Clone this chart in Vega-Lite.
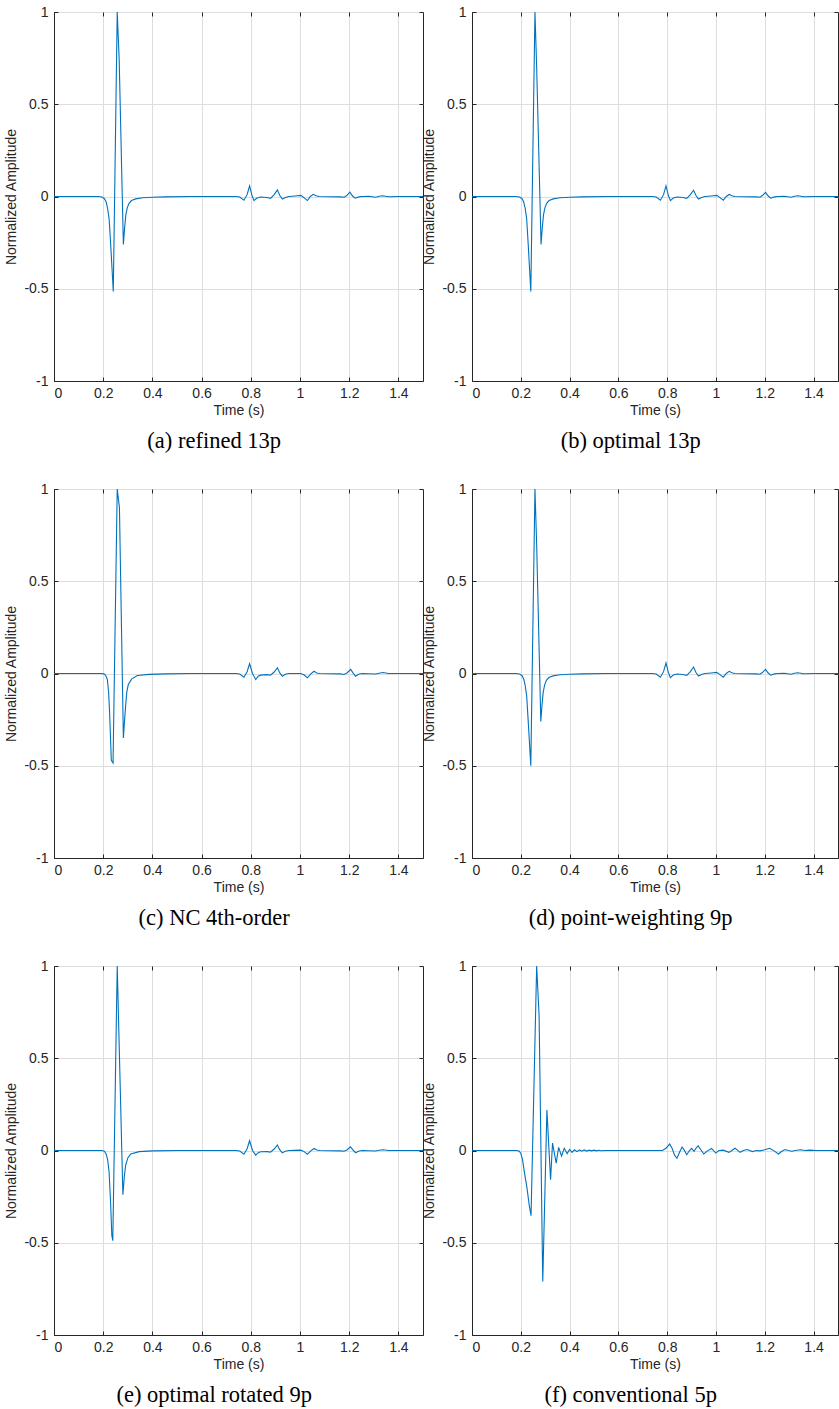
{
  "$schema": "https://vega.github.io/schema/vega-lite/v6.json",
  "autosize": {"type": "pad"},
  "padding": {"left": 4, "top": 4, "right": 0, "bottom": 0},
  "background": "white",
  "bounds": "flush",
  "columns": 2,
  "spacing": {"row": 108, "column": 49},
  "config": {
    "view": {"stroke": "#262626", "strokeWidth": 1},
    "axis": {
      "domainColor": "#262626", "tickColor": "#262626", "labelColor": "#262626", "titleColor": "#262626",
      "gridColor": "#dedede", "gridWidth": 1, "labelFont": "Liberation Sans", "titleFont": "Liberation Sans",
      "labelFontSize": 14, "titleFontSize": 14, "titleFontWeight": "normal", "tickSize": -4, "tickWidth": 1, "domainWidth": 1
    },
    "title": {"font": "Liberation Serif", "fontSize": 22.5, "fontWeight": "normal", "color": "#000000"}
  },
  "data": {"values": [
    {"p":"a","t":0,"v":0},{"p":"a","t":0.18,"v":0},{"p":"a","t":0.195,"v":-0.003},{"p":"a","t":0.205,"v":-0.012},{"p":"a","t":0.212,"v":-0.03},{"p":"a","t":0.218,"v":-0.065},{"p":"a","t":0.224,"v":-0.12},{"p":"a","t":0.23,"v":-0.25},{"p":"a","t":0.241,"v":-0.515},{"p":"a","t":0.257,"v":1.0},{"p":"a","t":0.265,"v":0.74},{"p":"a","t":0.282,"v":-0.26},{"p":"a","t":0.287,"v":-0.17},{"p":"a","t":0.292,"v":-0.1},{"p":"a","t":0.298,"v":-0.06},{"p":"a","t":0.305,"v":-0.037},{"p":"a","t":0.315,"v":-0.022},{"p":"a","t":0.332,"v":-0.013},{"p":"a","t":0.36,"v":-0.007},{"p":"a","t":0.4,"v":-0.004},{"p":"a","t":0.45,"v":-0.002},{"p":"a","t":0.55,"v":0},{"p":"a","t":0.74,"v":0},{"p":"a","t":0.755,"v":-0.003},{"p":"a","t":0.772,"v":-0.02},{"p":"a","t":0.785,"v":0.01},{"p":"a","t":0.795,"v":0.057},{"p":"a","t":0.805,"v":0.005},{"p":"a","t":0.813,"v":-0.022},{"p":"a","t":0.825,"v":-0.008},{"p":"a","t":0.84,"v":-0.003},{"p":"a","t":0.865,"v":-0.005},{"p":"a","t":0.88,"v":-0.01},{"p":"a","t":0.895,"v":0.01},{"p":"a","t":0.908,"v":0.036},{"p":"a","t":0.918,"v":0.005},{"p":"a","t":0.928,"v":-0.014},{"p":"a","t":0.94,"v":-0.005},{"p":"a","t":0.955,"v":0},{"p":"a","t":0.98,"v":0.003},{"p":"a","t":1.003,"v":0.006},{"p":"a","t":1.015,"v":-0.005},{"p":"a","t":1.03,"v":-0.022},{"p":"a","t":1.042,"v":0},{"p":"a","t":1.054,"v":0.012},{"p":"a","t":1.065,"v":0.004},{"p":"a","t":1.077,"v":0},{"p":"a","t":1.12,"v":-0.001},{"p":"a","t":1.165,"v":-0.002},{"p":"a","t":1.18,"v":-0.004},{"p":"a","t":1.19,"v":0.005},{"p":"a","t":1.203,"v":0.024},{"p":"a","t":1.213,"v":0.004},{"p":"a","t":1.224,"v":-0.009},{"p":"a","t":1.24,"v":-0.002},{"p":"a","t":1.253,"v":0},{"p":"a","t":1.28,"v":0.001},{"p":"a","t":1.307,"v":-0.004},{"p":"a","t":1.322,"v":0.001},{"p":"a","t":1.335,"v":0.004},{"p":"a","t":1.36,"v":-0.001},{"p":"a","t":1.4,"v":0},{"p":"a","t":1.5,"v":0},

    {"p":"b","t":0,"v":0},{"p":"b","t":0.18,"v":0},{"p":"b","t":0.195,"v":-0.003},{"p":"b","t":0.205,"v":-0.012},{"p":"b","t":0.212,"v":-0.03},{"p":"b","t":0.218,"v":-0.065},{"p":"b","t":0.224,"v":-0.12},{"p":"b","t":0.23,"v":-0.25},{"p":"b","t":0.241,"v":-0.515},{"p":"b","t":0.258,"v":1.0},{"p":"b","t":0.265,"v":0.7},{"p":"b","t":0.283,"v":-0.26},{"p":"b","t":0.288,"v":-0.17},{"p":"b","t":0.293,"v":-0.1},{"p":"b","t":0.299,"v":-0.06},{"p":"b","t":0.306,"v":-0.037},{"p":"b","t":0.316,"v":-0.022},{"p":"b","t":0.333,"v":-0.013},{"p":"b","t":0.36,"v":-0.007},{"p":"b","t":0.4,"v":-0.004},{"p":"b","t":0.45,"v":-0.002},{"p":"b","t":0.55,"v":0},{"p":"b","t":0.74,"v":0},{"p":"b","t":0.755,"v":-0.003},{"p":"b","t":0.772,"v":-0.02},{"p":"b","t":0.785,"v":0.01},{"p":"b","t":0.795,"v":0.058},{"p":"b","t":0.805,"v":0.005},{"p":"b","t":0.813,"v":-0.022},{"p":"b","t":0.825,"v":-0.008},{"p":"b","t":0.84,"v":-0.003},{"p":"b","t":0.865,"v":-0.005},{"p":"b","t":0.88,"v":-0.01},{"p":"b","t":0.895,"v":0.01},{"p":"b","t":0.908,"v":0.034},{"p":"b","t":0.918,"v":0.005},{"p":"b","t":0.928,"v":-0.014},{"p":"b","t":0.94,"v":-0.005},{"p":"b","t":0.955,"v":0},{"p":"b","t":0.98,"v":0.003},{"p":"b","t":1.003,"v":0.006},{"p":"b","t":1.015,"v":-0.005},{"p":"b","t":1.03,"v":-0.02},{"p":"b","t":1.042,"v":0},{"p":"b","t":1.054,"v":0.011},{"p":"b","t":1.065,"v":0.004},{"p":"b","t":1.077,"v":0},{"p":"b","t":1.12,"v":-0.001},{"p":"b","t":1.165,"v":-0.002},{"p":"b","t":1.18,"v":-0.004},{"p":"b","t":1.19,"v":0.005},{"p":"b","t":1.203,"v":0.022},{"p":"b","t":1.213,"v":0.004},{"p":"b","t":1.224,"v":-0.009},{"p":"b","t":1.24,"v":-0.002},{"p":"b","t":1.253,"v":0},{"p":"b","t":1.28,"v":0.001},{"p":"b","t":1.307,"v":-0.004},{"p":"b","t":1.322,"v":0.001},{"p":"b","t":1.335,"v":0.004},{"p":"b","t":1.36,"v":-0.001},{"p":"b","t":1.4,"v":0},{"p":"b","t":1.5,"v":0},

    {"p":"c","t":0,"v":0},{"p":"c","t":0.19,"v":0},{"p":"c","t":0.203,"v":-0.002},{"p":"c","t":0.21,"v":-0.01},{"p":"c","t":0.217,"v":-0.033},{"p":"c","t":0.222,"v":-0.1},{"p":"c","t":0.226,"v":-0.21},{"p":"c","t":0.233,"v":-0.47},{"p":"c","t":0.24,"v":-0.485},{"p":"c","t":0.257,"v":1.0},{"p":"c","t":0.266,"v":0.9},{"p":"c","t":0.282,"v":-0.35},{"p":"c","t":0.287,"v":-0.25},{"p":"c","t":0.291,"v":-0.178},{"p":"c","t":0.296,"v":-0.1},{"p":"c","t":0.302,"v":-0.06},{"p":"c","t":0.316,"v":-0.029},{"p":"c","t":0.339,"v":-0.011},{"p":"c","t":0.386,"v":-0.005},{"p":"c","t":0.45,"v":-0.002},{"p":"c","t":0.55,"v":0},{"p":"c","t":0.74,"v":0},{"p":"c","t":0.755,"v":-0.003},{"p":"c","t":0.772,"v":-0.02},{"p":"c","t":0.785,"v":0.01},{"p":"c","t":0.795,"v":0.053},{"p":"c","t":0.807,"v":0},{"p":"c","t":0.82,"v":-0.033},{"p":"c","t":0.83,"v":-0.015},{"p":"c","t":0.84,"v":-0.009},{"p":"c","t":0.865,"v":-0.006},{"p":"c","t":0.88,"v":-0.009},{"p":"c","t":0.895,"v":0.008},{"p":"c","t":0.908,"v":0.031},{"p":"c","t":0.918,"v":0.003},{"p":"c","t":0.928,"v":-0.015},{"p":"c","t":0.94,"v":-0.004},{"p":"c","t":0.955,"v":0},{"p":"c","t":1.003,"v":0},{"p":"c","t":1.017,"v":-0.008},{"p":"c","t":1.03,"v":-0.023},{"p":"c","t":1.044,"v":-0.002},{"p":"c","t":1.057,"v":0.012},{"p":"c","t":1.068,"v":0.003},{"p":"c","t":1.08,"v":0},{"p":"c","t":1.165,"v":-0.002},{"p":"c","t":1.179,"v":-0.005},{"p":"c","t":1.192,"v":0.004},{"p":"c","t":1.206,"v":0.022},{"p":"c","t":1.216,"v":0.002},{"p":"c","t":1.226,"v":-0.015},{"p":"c","t":1.24,"v":-0.003},{"p":"c","t":1.253,"v":0},{"p":"c","t":1.307,"v":-0.003},{"p":"c","t":1.322,"v":0.001},{"p":"c","t":1.337,"v":0.005},{"p":"c","t":1.36,"v":0},{"p":"c","t":1.5,"v":0},

    {"p":"d","t":0,"v":0},{"p":"d","t":0.18,"v":0},{"p":"d","t":0.195,"v":-0.003},{"p":"d","t":0.205,"v":-0.012},{"p":"d","t":0.212,"v":-0.03},{"p":"d","t":0.218,"v":-0.065},{"p":"d","t":0.224,"v":-0.12},{"p":"d","t":0.23,"v":-0.25},{"p":"d","t":0.241,"v":-0.5},{"p":"d","t":0.258,"v":1.0},{"p":"d","t":0.265,"v":0.7},{"p":"d","t":0.282,"v":-0.26},{"p":"d","t":0.287,"v":-0.17},{"p":"d","t":0.292,"v":-0.1},{"p":"d","t":0.298,"v":-0.06},{"p":"d","t":0.305,"v":-0.037},{"p":"d","t":0.315,"v":-0.022},{"p":"d","t":0.332,"v":-0.013},{"p":"d","t":0.36,"v":-0.007},{"p":"d","t":0.4,"v":-0.004},{"p":"d","t":0.45,"v":-0.002},{"p":"d","t":0.55,"v":0},{"p":"d","t":0.74,"v":0},{"p":"d","t":0.755,"v":-0.003},{"p":"d","t":0.772,"v":-0.02},{"p":"d","t":0.785,"v":0.01},{"p":"d","t":0.795,"v":0.057},{"p":"d","t":0.805,"v":0.005},{"p":"d","t":0.813,"v":-0.022},{"p":"d","t":0.825,"v":-0.008},{"p":"d","t":0.84,"v":-0.003},{"p":"d","t":0.865,"v":-0.005},{"p":"d","t":0.88,"v":-0.01},{"p":"d","t":0.895,"v":0.01},{"p":"d","t":0.908,"v":0.035},{"p":"d","t":0.918,"v":0.005},{"p":"d","t":0.928,"v":-0.014},{"p":"d","t":0.94,"v":-0.005},{"p":"d","t":0.955,"v":0},{"p":"d","t":0.98,"v":0.003},{"p":"d","t":1.003,"v":0.006},{"p":"d","t":1.015,"v":-0.005},{"p":"d","t":1.03,"v":-0.02},{"p":"d","t":1.042,"v":0},{"p":"d","t":1.054,"v":0.012},{"p":"d","t":1.065,"v":0.004},{"p":"d","t":1.077,"v":0},{"p":"d","t":1.12,"v":-0.001},{"p":"d","t":1.165,"v":-0.002},{"p":"d","t":1.18,"v":-0.004},{"p":"d","t":1.19,"v":0.005},{"p":"d","t":1.203,"v":0.022},{"p":"d","t":1.213,"v":0.004},{"p":"d","t":1.224,"v":-0.009},{"p":"d","t":1.24,"v":-0.002},{"p":"d","t":1.253,"v":0},{"p":"d","t":1.28,"v":0.001},{"p":"d","t":1.307,"v":-0.004},{"p":"d","t":1.322,"v":0.001},{"p":"d","t":1.335,"v":0.004},{"p":"d","t":1.36,"v":-0.001},{"p":"d","t":1.4,"v":0},{"p":"d","t":1.5,"v":0},

    {"p":"e","t":0,"v":0},{"p":"e","t":0.195,"v":0},{"p":"e","t":0.205,"v":-0.004},{"p":"e","t":0.212,"v":-0.02},{"p":"e","t":0.218,"v":-0.05},{"p":"e","t":0.224,"v":-0.118},{"p":"e","t":0.23,"v":-0.28},{"p":"e","t":0.235,"v":-0.46},{"p":"e","t":0.239,"v":-0.489},{"p":"e","t":0.257,"v":1.0},{"p":"e","t":0.28,"v":-0.24},{"p":"e","t":0.286,"v":-0.14},{"p":"e","t":0.291,"v":-0.082},{"p":"e","t":0.3,"v":-0.04},{"p":"e","t":0.312,"v":-0.019},{"p":"e","t":0.346,"v":-0.006},{"p":"e","t":0.4,"v":-0.002},{"p":"e","t":0.5,"v":0},{"p":"e","t":0.74,"v":0},{"p":"e","t":0.755,"v":-0.003},{"p":"e","t":0.772,"v":-0.02},{"p":"e","t":0.785,"v":0.01},{"p":"e","t":0.795,"v":0.053},{"p":"e","t":0.807,"v":0},{"p":"e","t":0.82,"v":-0.025},{"p":"e","t":0.83,"v":-0.012},{"p":"e","t":0.84,"v":-0.007},{"p":"e","t":0.865,"v":-0.006},{"p":"e","t":0.88,"v":-0.009},{"p":"e","t":0.895,"v":0.008},{"p":"e","t":0.908,"v":0.03},{"p":"e","t":0.918,"v":0.003},{"p":"e","t":0.928,"v":-0.013},{"p":"e","t":0.94,"v":-0.004},{"p":"e","t":0.955,"v":0},{"p":"e","t":1.003,"v":0.002},{"p":"e","t":1.017,"v":-0.006},{"p":"e","t":1.03,"v":-0.02},{"p":"e","t":1.044,"v":-0.002},{"p":"e","t":1.057,"v":0.011},{"p":"e","t":1.068,"v":0.003},{"p":"e","t":1.08,"v":0},{"p":"e","t":1.165,"v":-0.002},{"p":"e","t":1.179,"v":-0.004},{"p":"e","t":1.192,"v":0.004},{"p":"e","t":1.205,"v":0.02},{"p":"e","t":1.216,"v":0.002},{"p":"e","t":1.226,"v":-0.012},{"p":"e","t":1.24,"v":-0.003},{"p":"e","t":1.253,"v":0},{"p":"e","t":1.307,"v":-0.003},{"p":"e","t":1.322,"v":0.001},{"p":"e","t":1.337,"v":0.004},{"p":"e","t":1.36,"v":0},{"p":"e","t":1.5,"v":0},

    {"p":"f","t":0,"v":0},{"p":"f","t":0.18,"v":0},{"p":"f","t":0.193,"v":-0.003},{"p":"f","t":0.2,"v":-0.015},{"p":"f","t":0.207,"v":-0.05},{"p":"f","t":0.215,"v":-0.12},{"p":"f","t":0.225,"v":-0.2},{"p":"f","t":0.235,"v":-0.3},{"p":"f","t":0.242,"v":-0.353},{"p":"f","t":0.265,"v":1.0},{"p":"f","t":0.275,"v":0.73},{"p":"f","t":0.29,"v":-0.71},{"p":"f","t":0.307,"v":0.22},{"p":"f","t":0.322,"v":-0.158},{"p":"f","t":0.33,"v":0.04},{"p":"f","t":0.345,"v":-0.068},{"p":"f","t":0.355,"v":0.017},{"p":"f","t":0.367,"v":-0.03},{"p":"f","t":0.378,"v":0.012},{"p":"f","t":0.39,"v":-0.017},{"p":"f","t":0.4,"v":0.006},{"p":"f","t":0.41,"v":-0.01},{"p":"f","t":0.42,"v":0.004},{"p":"f","t":0.43,"v":-0.006},{"p":"f","t":0.44,"v":0.003},{"p":"f","t":0.45,"v":-0.004},{"p":"f","t":0.46,"v":0.003},{"p":"f","t":0.47,"v":-0.003},{"p":"f","t":0.48,"v":0.002},{"p":"f","t":0.49,"v":-0.002},{"p":"f","t":0.5,"v":0.002},{"p":"f","t":0.51,"v":-0.002},{"p":"f","t":0.52,"v":0.001},{"p":"f","t":0.53,"v":-0.001},{"p":"f","t":0.55,"v":0},{"p":"f","t":0.78,"v":0},{"p":"f","t":0.795,"v":0.012},{"p":"f","t":0.81,"v":0.035},{"p":"f","t":0.82,"v":0.012},{"p":"f","t":0.83,"v":-0.025},{"p":"f","t":0.84,"v":-0.042},{"p":"f","t":0.851,"v":-0.008},{"p":"f","t":0.861,"v":0.019},{"p":"f","t":0.87,"v":0.002},{"p":"f","t":0.88,"v":-0.023},{"p":"f","t":0.89,"v":-0.003},{"p":"f","t":0.9,"v":0.012},{"p":"f","t":0.91,"v":-0.004},{"p":"f","t":0.919,"v":0.015},{"p":"f","t":0.927,"v":0.025},{"p":"f","t":0.938,"v":0.004},{"p":"f","t":0.95,"v":-0.019},{"p":"f","t":0.965,"v":-0.002},{"p":"f","t":0.982,"v":0.011},{"p":"f","t":0.999,"v":-0.014},{"p":"f","t":1.012,"v":0},{"p":"f","t":1.03,"v":0.002},{"p":"f","t":1.053,"v":-0.01},{"p":"f","t":1.065,"v":0},{"p":"f","t":1.078,"v":0.012},{"p":"f","t":1.088,"v":0.002},{"p":"f","t":1.099,"v":-0.01},{"p":"f","t":1.112,"v":0},{"p":"f","t":1.127,"v":0.005},{"p":"f","t":1.138,"v":0},{"p":"f","t":1.149,"v":-0.006},{"p":"f","t":1.165,"v":0},{"p":"f","t":1.18,"v":-0.002},{"p":"f","t":1.2,"v":0.004},{"p":"f","t":1.22,"v":0.012},{"p":"f","t":1.238,"v":-0.002},{"p":"f","t":1.256,"v":-0.019},{"p":"f","t":1.27,"v":-0.004},{"p":"f","t":1.283,"v":0.005},{"p":"f","t":1.297,"v":0},{"p":"f","t":1.311,"v":-0.004},{"p":"f","t":1.325,"v":0},{"p":"f","t":1.346,"v":0.004},{"p":"f","t":1.365,"v":0},{"p":"f","t":1.385,"v":0.002},{"p":"f","t":1.41,"v":0},{"p":"f","t":1.5,"v":0}
  ]},
  "concat": [
    {
      "width": 369, "height": 369,
      "transform": [{"filter": "datum.p == 'a'"}],
      "title": {"text": "(a) refined 13p", "orient": "bottom", "frame": "bounds", "anchor": "middle", "offset": 13},
      "layer": [
        {"mark": {"type": "line", "color": "#0072BD", "strokeWidth": 1.1, "clip": true},
         "encoding": {
           "x": {"field": "t", "type": "quantitative", "scale": {"domain": [0, 1.5], "nice": false, "zero": false}, "axis": {"orient": "bottom", "values": [0,0.2,0.4,0.6,0.8,1,1.2,1.4], "format": "~g", "title": "Time (s)", "labelPadding": 9, "titlePadding": 3, "grid": true}},
           "y": {"field": "v", "type": "quantitative", "scale": {"domain": [-1, 1], "nice": false}, "axis": {"orient": "left", "values": [-1,-0.5,0,0.5,1], "labelExpr": "replace(format(datum.value,'~g'),'\u2212','-')", "title": "Normalized Amplitude", "labelPadding": 10, "titlePadding": 5, "grid": true}}
         }},
        {"mark": {"type": "line", "opacity": 0},
         "encoding": {
           "x": {"field": "t", "type": "quantitative", "axis": {"orient": "top", "values": [0,0.2,0.4,0.6,0.8,1,1.2,1.4], "labels": false, "grid": false, "domain": false, "title": null}},
           "y": {"field": "v", "type": "quantitative", "axis": {"orient": "right", "values": [-1,-0.5,0,0.5,1], "labels": false, "grid": false, "domain": false, "title": null}}
         }}
      ],
      "resolve": {"axis": {"x": "independent", "y": "independent"}}
    },
    {
      "width": 366, "height": 369,
      "transform": [{"filter": "datum.p == 'b'"}],
      "title": {"text": "(b) optimal 13p", "orient": "bottom", "frame": "bounds", "anchor": "middle", "offset": 13},
      "layer": [
        {"mark": {"type": "line", "color": "#0072BD", "strokeWidth": 1.1, "clip": true},
         "encoding": {
           "x": {"field": "t", "type": "quantitative", "scale": {"domain": [0, 1.5], "nice": false, "zero": false}, "axis": {"orient": "bottom", "values": [0,0.2,0.4,0.6,0.8,1,1.2,1.4], "format": "~g", "title": "Time (s)", "labelPadding": 9, "titlePadding": 3, "grid": true}},
           "y": {"field": "v", "type": "quantitative", "scale": {"domain": [-1, 1], "nice": false}, "axis": {"orient": "left", "values": [-1,-0.5,0,0.5,1], "labelExpr": "replace(format(datum.value,'~g'),'\u2212','-')", "title": "Normalized Amplitude", "labelPadding": 10, "titlePadding": 5, "grid": true}}
         }},
        {"mark": {"type": "line", "opacity": 0},
         "encoding": {
           "x": {"field": "t", "type": "quantitative", "axis": {"orient": "top", "values": [0,0.2,0.4,0.6,0.8,1,1.2,1.4], "labels": false, "grid": false, "domain": false, "title": null}},
           "y": {"field": "v", "type": "quantitative", "axis": {"orient": "right", "values": [-1,-0.5,0,0.5,1], "labels": false, "grid": false, "domain": false, "title": null}}
         }}
      ],
      "resolve": {"axis": {"x": "independent", "y": "independent"}}
    },
    {
      "width": 369, "height": 369,
      "transform": [{"filter": "datum.p == 'c'"}],
      "title": {"text": "(c) NC 4th-order", "orient": "bottom", "frame": "bounds", "anchor": "middle", "offset": 13},
      "layer": [
        {"mark": {"type": "line", "color": "#0072BD", "strokeWidth": 1.1, "clip": true},
         "encoding": {
           "x": {"field": "t", "type": "quantitative", "scale": {"domain": [0, 1.5], "nice": false, "zero": false}, "axis": {"orient": "bottom", "values": [0,0.2,0.4,0.6,0.8,1,1.2,1.4], "format": "~g", "title": "Time (s)", "labelPadding": 9, "titlePadding": 3, "grid": true}},
           "y": {"field": "v", "type": "quantitative", "scale": {"domain": [-1, 1], "nice": false}, "axis": {"orient": "left", "values": [-1,-0.5,0,0.5,1], "labelExpr": "replace(format(datum.value,'~g'),'\u2212','-')", "title": "Normalized Amplitude", "labelPadding": 10, "titlePadding": 5, "grid": true}}
         }},
        {"mark": {"type": "line", "opacity": 0},
         "encoding": {
           "x": {"field": "t", "type": "quantitative", "axis": {"orient": "top", "values": [0,0.2,0.4,0.6,0.8,1,1.2,1.4], "labels": false, "grid": false, "domain": false, "title": null}},
           "y": {"field": "v", "type": "quantitative", "axis": {"orient": "right", "values": [-1,-0.5,0,0.5,1], "labels": false, "grid": false, "domain": false, "title": null}}
         }}
      ],
      "resolve": {"axis": {"x": "independent", "y": "independent"}}
    },
    {
      "width": 366, "height": 369,
      "transform": [{"filter": "datum.p == 'd'"}],
      "title": {"text": "(d) point-weighting 9p", "orient": "bottom", "frame": "bounds", "anchor": "middle", "offset": 13},
      "layer": [
        {"mark": {"type": "line", "color": "#0072BD", "strokeWidth": 1.1, "clip": true},
         "encoding": {
           "x": {"field": "t", "type": "quantitative", "scale": {"domain": [0, 1.5], "nice": false, "zero": false}, "axis": {"orient": "bottom", "values": [0,0.2,0.4,0.6,0.8,1,1.2,1.4], "format": "~g", "title": "Time (s)", "labelPadding": 9, "titlePadding": 3, "grid": true}},
           "y": {"field": "v", "type": "quantitative", "scale": {"domain": [-1, 1], "nice": false}, "axis": {"orient": "left", "values": [-1,-0.5,0,0.5,1], "labelExpr": "replace(format(datum.value,'~g'),'\u2212','-')", "title": "Normalized Amplitude", "labelPadding": 10, "titlePadding": 5, "grid": true}}
         }},
        {"mark": {"type": "line", "opacity": 0},
         "encoding": {
           "x": {"field": "t", "type": "quantitative", "axis": {"orient": "top", "values": [0,0.2,0.4,0.6,0.8,1,1.2,1.4], "labels": false, "grid": false, "domain": false, "title": null}},
           "y": {"field": "v", "type": "quantitative", "axis": {"orient": "right", "values": [-1,-0.5,0,0.5,1], "labels": false, "grid": false, "domain": false, "title": null}}
         }}
      ],
      "resolve": {"axis": {"x": "independent", "y": "independent"}}
    },
    {
      "width": 369, "height": 369,
      "transform": [{"filter": "datum.p == 'e'"}],
      "title": {"text": "(e) optimal rotated 9p", "orient": "bottom", "frame": "bounds", "anchor": "middle", "offset": 13},
      "layer": [
        {"mark": {"type": "line", "color": "#0072BD", "strokeWidth": 1.1, "clip": true},
         "encoding": {
           "x": {"field": "t", "type": "quantitative", "scale": {"domain": [0, 1.5], "nice": false, "zero": false}, "axis": {"orient": "bottom", "values": [0,0.2,0.4,0.6,0.8,1,1.2,1.4], "format": "~g", "title": "Time (s)", "labelPadding": 9, "titlePadding": 3, "grid": true}},
           "y": {"field": "v", "type": "quantitative", "scale": {"domain": [-1, 1], "nice": false}, "axis": {"orient": "left", "values": [-1,-0.5,0,0.5,1], "labelExpr": "replace(format(datum.value,'~g'),'\u2212','-')", "title": "Normalized Amplitude", "labelPadding": 10, "titlePadding": 5, "grid": true}}
         }},
        {"mark": {"type": "line", "opacity": 0},
         "encoding": {
           "x": {"field": "t", "type": "quantitative", "axis": {"orient": "top", "values": [0,0.2,0.4,0.6,0.8,1,1.2,1.4], "labels": false, "grid": false, "domain": false, "title": null}},
           "y": {"field": "v", "type": "quantitative", "axis": {"orient": "right", "values": [-1,-0.5,0,0.5,1], "labels": false, "grid": false, "domain": false, "title": null}}
         }}
      ],
      "resolve": {"axis": {"x": "independent", "y": "independent"}}
    },
    {
      "width": 366, "height": 369,
      "transform": [{"filter": "datum.p == 'f'"}],
      "title": {"text": "(f) conventional 5p", "orient": "bottom", "frame": "bounds", "anchor": "middle", "offset": 13},
      "layer": [
        {"mark": {"type": "line", "color": "#0072BD", "strokeWidth": 1.1, "clip": true},
         "encoding": {
           "x": {"field": "t", "type": "quantitative", "scale": {"domain": [0, 1.5], "nice": false, "zero": false}, "axis": {"orient": "bottom", "values": [0,0.2,0.4,0.6,0.8,1,1.2,1.4], "format": "~g", "title": "Time (s)", "labelPadding": 9, "titlePadding": 3, "grid": true}},
           "y": {"field": "v", "type": "quantitative", "scale": {"domain": [-1, 1], "nice": false}, "axis": {"orient": "left", "values": [-1,-0.5,0,0.5,1], "labelExpr": "replace(format(datum.value,'~g'),'\u2212','-')", "title": "Normalized Amplitude", "labelPadding": 10, "titlePadding": 5, "grid": true}}
         }},
        {"mark": {"type": "line", "opacity": 0},
         "encoding": {
           "x": {"field": "t", "type": "quantitative", "axis": {"orient": "top", "values": [0,0.2,0.4,0.6,0.8,1,1.2,1.4], "labels": false, "grid": false, "domain": false, "title": null}},
           "y": {"field": "v", "type": "quantitative", "axis": {"orient": "right", "values": [-1,-0.5,0,0.5,1], "labels": false, "grid": false, "domain": false, "title": null}}
         }}
      ],
      "resolve": {"axis": {"x": "independent", "y": "independent"}}
    }
  ]
}
